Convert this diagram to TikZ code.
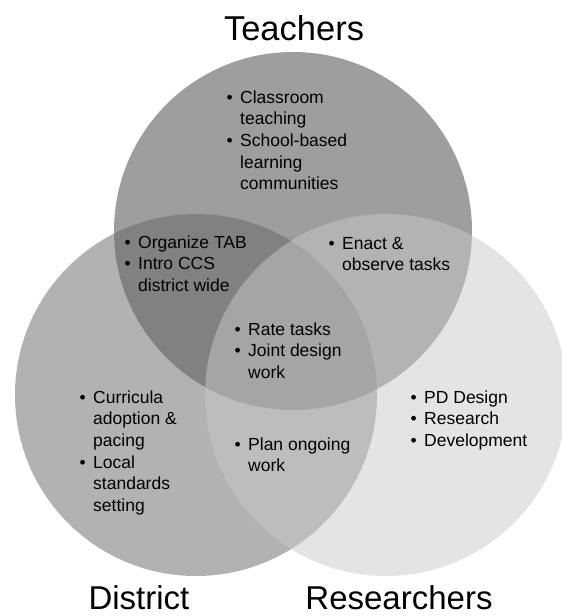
\documentclass[tikz,border=0pt]{standalone}
\usepackage{fontspec}
\setmainfont{Liberation Sans}
\usepackage{tikz}
\definecolor{teachcolor}{RGB}{61, 61, 61}
\definecolor{distcolor}{RGB}{101, 101, 101}
\definecolor{rescolor}{RGB}{201, 201, 201}
\newcommand{\bu}{\makebox[13.5pt][l]{\textbullet}}
\newcommand{\blist}[1]{\begin{tabular}[t]{@{}l@{}l@{}}#1\end{tabular}}

\begin{document}
\begin{tikzpicture}[x=1pt, y=-1pt,
    venn/.style={circle, inner sep=0pt, minimum size=#1, fill opacity=0.5},
    title/.style={anchor=base, inner sep=0pt, font=\fontsize{#1}{40}\selectfont},
    items/.style={anchor=base west, inner sep=0pt, font=\fontsize{17.5}{21.7}\selectfont}]
    \useasboundingbox (0,0) rectangle (562,616);
    % the three circles
    \node[venn=358, fill=teachcolor] (teachers) at (293,231) {};
    \node[venn=362, fill=distcolor] (district) at (196,395) {};
    \node[venn=362, fill=rescolor] (researchers) at (386,395) {};
    % titles
    \node[title=34.5] (tteach) at (294,40) {Teachers};
    \node[title=33] (tdist) at (139,609) {District};
    \node[title=33] (tres) at (399,609) {Researchers};
    % region texts
    \node[items] (lteach) at (226.5,103) {\blist{\bu & Classroom\\ & teaching\\ \bu & School-based\\ & learning\\ & communities}};
    \node[items] (ltd) at (124.5,248) {\blist{\bu & Organize TAB\\ \bu & Intro CCS\\ & district wide}};
    \node[items] (ltr) at (328.5,249) {\blist{\bu & Enact \&\\ & observe tasks}};
    \node[items] (lall) at (234.5,335) {\blist{\bu & Rate tasks\\ \bu & Joint design\\ & work}};
    \node[items] (ldist) at (79.5,403) {\blist{\bu & Curricula\\ & adoption \&\\ & pacing\\ \bu & Local\\ & standards\\ & setting}};
    \node[items] (ldr) at (234.5,450) {\blist{\bu & Plan ongoing\\ & work}};
    \node[items] (lres) at (410.5,403) {\blist{\bu & PD Design\\ \bu & Research\\ \bu & Development}};
\end{tikzpicture}
\end{document}
